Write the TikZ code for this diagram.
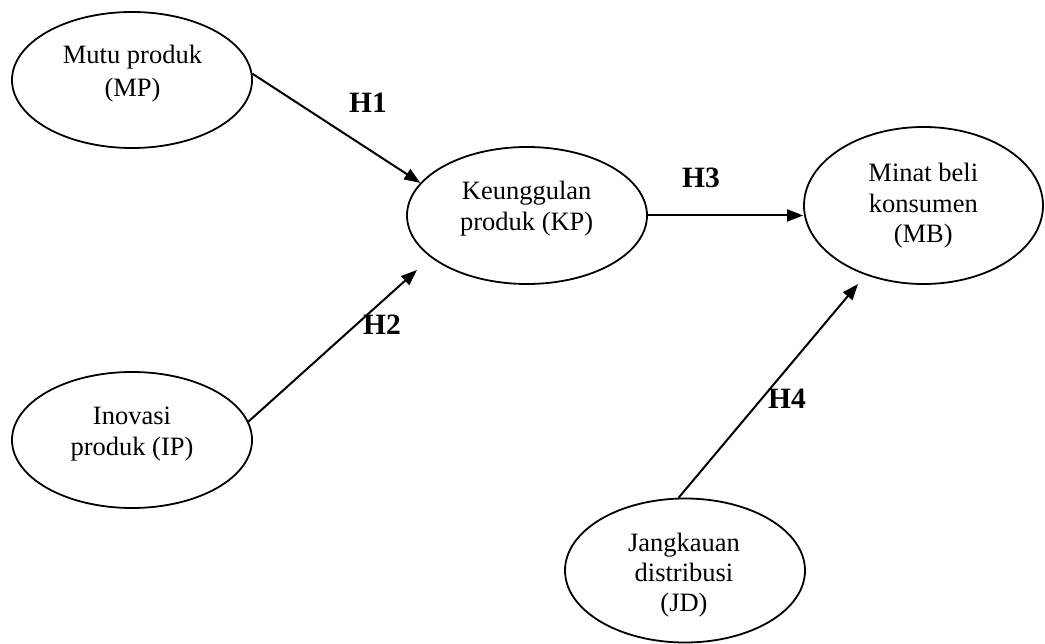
\documentclass[tikz,border=0pt]{standalone}
\usepackage{fontspec}
\setmainfont{Liberation Serif}
\usetikzlibrary{shapes.geometric,arrows.meta}
\begin{document}
\begin{tikzpicture}[x=1pt,y=-1pt,
  konstruk/.style={draw, ellipse, line width=1.8pt, inner sep=0pt},
  txt/.style={font=\fontsize{26.5}{#1}\selectfont, align=center, inner sep=0pt, anchor=north},
  hlabel/.style={font=\fontsize{29.5}{35}\selectfont\bfseries, inner sep=0pt, anchor=base},
  panah/.style={line width=2pt, -{Triangle[length=16pt,width=12pt]}}]
\useasboundingbox (0,0) rectangle (1045,644);

% ellipses
\node[konstruk, minimum width=240pt, minimum height=136pt] (MP) at (132,80) {};
\node[konstruk, minimum width=240pt, minimum height=136pt] (IP) at (132,440) {};
\node[konstruk, minimum width=240pt, minimum height=137pt] (KP) at (527,215.5) {};
\node[konstruk, minimum width=239pt, minimum height=157pt] (MB) at (923.5,205.5) {};
\node[konstruk, minimum width=240pt, minimum height=144pt] (JD) at (685,570.5) {};

% texts
\node[txt=33] (MPt) at (132.5,40.2) {\strut Mutu produk\\(MP)};
\node[txt=31] (IPt) at (132,402.3) {\strut Inovasi\\produk (IP)};
\node[txt=31.4] (KPt) at (526.7,177.3) {\strut Keunggulan\\produk (KP)};
\node[txt=30.5] (MBt) at (923.3,160.3) {\strut Minat beli\\konsumen\\(MB)};
\node[txt=30] (JDt) at (684,530.7) {\strut Jangkauan\\distribusi\\(JD)};

% free arrow ends
\coordinate (KPin) at (417,270);
\coordinate (MBin) at (858,284);

% connectors
\draw[panah] (MP.3) -- (KP.163);
\draw[panah] (IP.9) -- (KPin);
\draw[panah] (KP.east) -- (KP.east -| MB.west);
\draw[panah] (JD.95) -- (MBin);

% hypothesis labels
\node[hlabel] (H1) at (368,113) {H1};
\node[hlabel] (H2) at (382,335) {H2};
\node[hlabel] (H3) at (701,188) {H3};
\node[hlabel] (H4) at (787,409) {H4};
\end{tikzpicture}
\end{document}
